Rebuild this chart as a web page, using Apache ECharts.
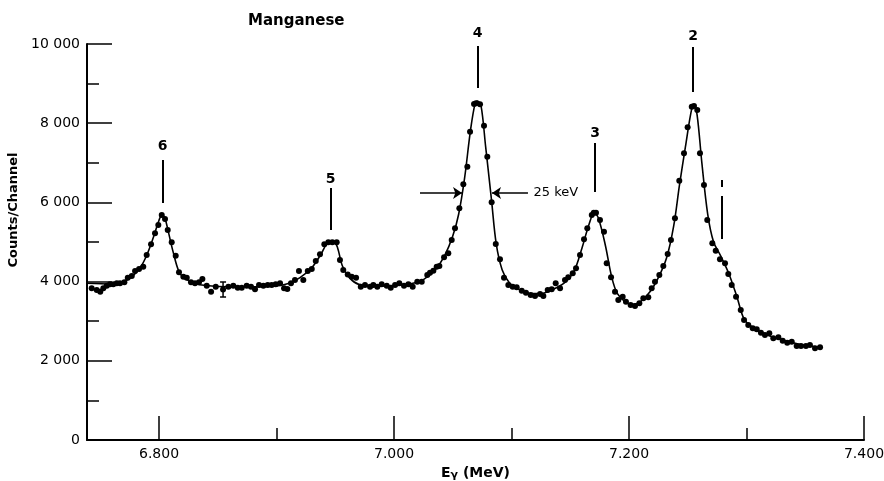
<!DOCTYPE html>
<html>
<head>
<meta charset="utf-8">
<script src="https://cdn.jsdelivr.net/npm/echarts@6/dist/echarts.min.js"></script>
<style>
  html, body { margin: 0; padding: 0; background: #fff; }
  #main { width: 884px; height: 481px; }
</style>
</head>
<body>
<div id="main"></div>
<script>
// measured spectrum points (MeV, counts per channel)
const energy = [
  6.7427, 6.7470, 6.7500, 6.7526, 6.7555, 6.7583, 6.7611, 6.7640, 6.7668, 6.7705,
  6.7734, 6.7768, 6.7796, 6.7830, 6.7866, 6.7895, 6.7932, 6.7966, 6.7994, 6.8023,
  6.8051, 6.8074, 6.8108, 6.8142, 6.8170, 6.8207, 6.8236, 6.8272, 6.8306, 6.8340,
  6.8369, 6.8406, 6.8443, 6.8483, 6.8545, 6.8590, 6.8632, 6.8670, 6.8704, 6.8746,
  6.8783, 6.8817, 6.8851, 6.8888, 6.8925, 6.8959, 6.8993, 6.9030, 6.9064, 6.9092,
  6.9123, 6.9157, 6.9191, 6.9228, 6.9266, 6.9300, 6.9334, 6.9370, 6.9407, 6.9441,
  6.9475, 6.9512, 6.9540, 6.9568, 6.9606, 6.9640, 6.9677, 6.9717, 6.9753, 6.9796,
  6.9824, 6.9858, 6.9895, 6.9938, 6.9972, 7.0009, 7.0045, 7.0085, 7.0122, 7.0159,
  7.0198, 7.0236, 7.0283, 7.0306, 7.0335, 7.0363, 7.0386, 7.0426, 7.0462, 7.0491,
  7.0519, 7.0556, 7.0590, 7.0624, 7.0647, 7.0681, 7.0698, 7.0732, 7.0766, 7.0794,
  7.0831, 7.0866, 7.0902, 7.0936, 7.0973, 7.1010, 7.1044, 7.1087, 7.1123, 7.1163,
  7.1200, 7.1243, 7.1271, 7.1308, 7.1342, 7.1376, 7.1413, 7.1455, 7.1483, 7.1521,
  7.1549, 7.1583, 7.1617, 7.1645, 7.1683, 7.1700, 7.1719, 7.1753, 7.1787, 7.1810,
  7.1847, 7.1881, 7.1909, 7.1946, 7.1974, 7.2014, 7.2051, 7.2088, 7.2122, 7.2164,
  7.2193, 7.2221, 7.2258, 7.2292, 7.2329, 7.2357, 7.2391, 7.2428, 7.2468, 7.2499,
  7.2534, 7.2553, 7.2581, 7.2604, 7.2638, 7.2666, 7.2709, 7.2738, 7.2774, 7.2817,
  7.2845, 7.2874, 7.2911, 7.2951, 7.2979, 7.3015, 7.3053, 7.3087, 7.3123, 7.3157,
  7.3194, 7.3228, 7.3271, 7.3308, 7.3347, 7.3385, 7.3427, 7.3464, 7.3506, 7.3540,
  7.3583, 7.3626
]
const counts = [
  3830, 3788, 3745, 3830, 3897, 3931, 3931, 3956, 3956, 3981,
  4099, 4141, 4267, 4318, 4376, 4671, 4941, 5219, 5429, 5681,
  5580, 5303, 4991, 4654, 4234, 4124, 4099, 3981, 3956, 3981,
  4065, 3897, 3745, 3871, 3800, 3871, 3897, 3846, 3846, 3897,
  3871, 3804, 3914, 3897, 3914, 3914, 3931, 3956, 3830, 3813,
  3956, 4040, 4267, 4040, 4267, 4318, 4520, 4688, 4941, 4991,
  4991, 4991, 4545, 4292, 4180, 4124, 4099, 3871, 3914, 3871,
  3914, 3871, 3931, 3897, 3846, 3914, 3956, 3897, 3931, 3871,
  3998, 3998, 4166, 4224, 4275, 4376, 4394, 4613, 4714, 5050,
  5345, 5850, 6456, 6901, 7785, 8484, 8501, 8476, 7936, 7153,
  6002, 4949, 4562, 4099, 3914, 3871, 3855, 3771, 3720, 3661,
  3636, 3687, 3636, 3788, 3804, 3956, 3830, 4040, 4107, 4208,
  4335, 4671, 5067, 5345, 5681, 5740, 5740, 5555, 5261, 4461,
  4107, 3745, 3535, 3619, 3493, 3409, 3384, 3451, 3577, 3603,
  3830, 3998, 4166, 4394, 4697, 5050, 5598, 6547, 7239, 7896,
  8416, 8434, 8333, 7239, 6439, 5555, 4966, 4780, 4562, 4461,
  4192, 3914, 3619, 3283, 3030, 2904, 2820, 2795, 2710, 2651,
  2694, 2568, 2593, 2507, 2457, 2482, 2374, 2374, 2374, 2399,
  2315, 2341
]

// fitted curve
const fitEnergy = [
  6.7387, 6.7600, 6.7700, 6.7780, 6.7850, 6.7900, 6.7950, 6.8000, 6.8025, 6.8050,
  6.8080, 6.8120, 6.8170, 6.8220, 6.8300, 6.8400, 6.8600, 6.8800, 6.9000, 6.9100,
  6.9200, 6.9300, 6.9380, 6.9430, 6.9490, 6.9520, 6.9560, 6.9620, 6.9700, 6.9850,
  7.0000, 7.0150, 7.0250, 7.0350, 7.0430, 7.0500, 7.0550, 7.0600, 7.0650, 7.0690,
  7.0710, 7.0740, 7.0780, 7.0830, 7.0870, 7.0920, 7.0980, 7.1050, 7.1150, 7.1250,
  7.1350, 7.1450, 7.1530, 7.1600, 7.1660, 7.1705, 7.1740, 7.1800, 7.1850, 7.1900,
  7.1970, 7.2030, 7.2100, 7.2180, 7.2250, 7.2320, 7.2380, 7.2430, 7.2480, 7.2535,
  7.2555, 7.2580, 7.2620, 7.2670, 7.2720, 7.2780, 7.2850, 7.2920, 7.2980, 7.3050,
  7.3150, 7.3300, 7.3450, 7.3630
]
const fitCounts = [
  3960, 3940, 4000, 4150, 4400, 4700, 5100, 5550, 5680, 5600,
  5250, 4750, 4250, 4080, 3960, 3900, 3870, 3870, 3890, 3950,
  4100, 4350, 4700, 4950, 4990, 4850, 4400, 4100, 3930, 3880,
  3900, 3950, 4050, 4300, 4650, 5150, 5700, 6600, 7800, 8500,
  8560, 8450, 7400, 6050, 4950, 4300, 3980, 3830, 3700, 3700,
  3800, 3970, 4250, 4850, 5450, 5740, 5600, 4900, 4150, 3700,
  3480, 3420, 3500, 3750, 4100, 4600, 5400, 6450, 7400, 8380,
  8430, 8200, 7000, 5700, 5000, 4650, 4200, 3600, 3050, 2850,
  2680, 2530, 2420, 2340
]

// peak markers
const peakIds = ['6', '5', '4', '3', '2']
const peakEnergy = [6.8030, 6.9461, 7.0712, 7.1711, 7.2545]
const markTop = [7070, 6363, 9949, 7499, 9923]
const markBottom = [5984, 5303, 8888, 6262, 8787]
const peakLabelAt = [7424, 6590, 10277, 7752, 10201]

// broken marker right of peak 2
const sideMarkEnergy = 7.2789
const sideMarkSegments = [[6565, 6388], [6161, 5075]]

// width arrows at half maximum of peak 4
const fwhmLevel = 6237
const leftArrow = [7.0221, 7.0579]
const rightArrow = [7.1140, 7.0834]
const fwhmText = '25 keV'
const fwhmTextAt = 7.1183

// one error bar on the baseline
const errEnergy = 6.8545
const errLow = 3611
const errHigh = 3990

const xMajor = [6.8, 7.0, 7.2, 7.4]
const xMinor = [6.9, 7.1, 7.3]

const font = 'DejaVu Sans'
const chart = echarts.init(document.getElementById('main'))

const segs = []
for (let i = 0; i < peakIds.length; i++) {
  segs.push({ coords: [[peakEnergy[i], markTop[i]], [peakEnergy[i], markBottom[i]]] })
}
sideMarkSegments.forEach(function (s) {
  segs.push({ coords: [[sideMarkEnergy, s[0]], [sideMarkEnergy, s[1]]] })
})

const labels = peakIds.map(function (id, i) {
  return { value: [peakEnergy[i], peakLabelAt[i]], name: id }
})

const option = {
  animation: false,
  backgroundColor: '#fff',
  title: {
    text: 'Manganese',
    left: 243,
    top: 9,
    textStyle: { fontFamily: font, fontSize: 15, fontWeight: 'bold', color: '#000' }
  },
  grid: { left: 87, right: 20, top: 44, bottom: 41, outerBoundsMode: 'none' },
  xAxis: [
    {
      type: 'value',
      min: 6.7387,
      max: 7.4,
      name: 'E{g|γ} (MeV)',
      nameLocation: 'middle',
      nameGap: 24,
      nameTextStyle: {
        fontFamily: font, fontSize: 14, fontWeight: 'bold', color: '#000',
        rich: { g: { fontFamily: font, fontSize: 11, fontWeight: 'bold', color: '#000', padding: [5, 0, 0, 0] } }
      },
      axisLine: { show: true, onZero: false, lineStyle: { color: '#000', width: 2 } },
      axisTick: { show: true, inside: true, length: 24, customValues: xMajor, lineStyle: { color: '#000', width: 1.5 } },
      axisLabel: {
        customValues: xMajor,
        margin: 7,
        fontFamily: font, fontSize: 14, color: '#000',
        formatter: function (v) { return v.toFixed(3) }
      },
      splitLine: { show: false }
    },
    {
      type: 'value',
      min: 6.7387,
      max: 7.4,
      position: 'bottom',
      axisLine: { show: false },
      axisTick: { show: true, inside: true, length: 12, customValues: xMinor, lineStyle: { color: '#000', width: 1.5 } },
      axisLabel: { show: false },
      splitLine: { show: false }
    }
  ],
  yAxis: {
    type: 'value',
    min: 0,
    max: 10000,
    interval: 2000,
    name: 'Counts/Channel',
    nameLocation: 'middle',
    nameGap: 62,
    nameTextStyle: { fontFamily: font, fontSize: 13, fontWeight: 'bold', color: '#000', padding: [0, 0, 0, 64] },
    axisLine: { show: true, lineStyle: { color: '#000', width: 2 } },
    axisTick: { show: true, inside: true, length: 25, lineStyle: { color: '#000', width: 1.5 } },
    minorTick: { show: true, splitNumber: 2, length: 12, lineStyle: { color: '#000', width: 1.5 } },
    axisLabel: {
      margin: 7,
      fontFamily: font, fontSize: 14, color: '#000',
      formatter: function (v) { return v === 0 ? '0' : (v / 1000) + ' 000' }
    },
    splitLine: { show: false }
  },
  series: [
    {
      type: 'line',
      data: fitEnergy.map(function (e, i) { return [e, fitCounts[i]] }),
      smooth: 0.35,
      showSymbol: false,
      lineStyle: { color: '#000', width: 1.6 },
      z: 2
    },
    {
      type: 'scatter',
      data: energy.map(function (e, i) { return [e, counts[i]] }),
      symbolSize: 6,
      itemStyle: { color: '#000', opacity: 1 },
      z: 3
    },
    {
      type: 'lines',
      coordinateSystem: 'cartesian2d',
      data: segs,
      symbol: 'none',
      lineStyle: { color: '#000', width: 2, opacity: 1 },
      z: 4
    },
    {
      type: 'lines',
      coordinateSystem: 'cartesian2d',
      data: [
        { coords: [[leftArrow[0], fwhmLevel], [leftArrow[1], fwhmLevel]] },
        { coords: [[rightArrow[0], fwhmLevel], [rightArrow[1], fwhmLevel]] }
      ],
      symbol: ['none', 'arrow'],
      symbolSize: 9,
      lineStyle: { color: '#000', width: 1.6, opacity: 1 },
      z: 4
    },
    {
      type: 'scatter',
      clip: false,
      data: labels,
      symbolSize: 1,
      itemStyle: { color: 'transparent', opacity: 1 },
      label: {
        show: true,
        position: 'inside',
        formatter: '{b}',
        fontFamily: font, fontSize: 14, fontWeight: 'bold', color: '#000', opacity: 1
      },
      z: 5
    },
    {
      type: 'scatter',
      data: [{ value: [fwhmTextAt, fwhmLevel], name: fwhmText }],
      symbolSize: 1,
      itemStyle: { color: 'transparent', opacity: 1 },
      label: {
        show: true,
        position: 'right',
        distance: 0,
        formatter: '{b}',
        fontFamily: font, fontSize: 13, color: '#000', opacity: 1
      },
      z: 5
    },
    {
      type: 'custom',
      data: [[errEnergy, errLow, errHigh]],
      renderItem: function (params, api) {
        const lo = api.coord([api.value(0), api.value(1)])
        const hi = api.coord([api.value(0), api.value(2)])
        const w = 3
        const st = { stroke: '#000', lineWidth: 1.5 }
        return {
          type: 'group',
          children: [
            { type: 'line', shape: { x1: lo[0], y1: lo[1], x2: hi[0], y2: hi[1] }, style: st },
            { type: 'line', shape: { x1: lo[0] - w, y1: lo[1], x2: lo[0] + w, y2: lo[1] }, style: st },
            { type: 'line', shape: { x1: hi[0] - w, y1: hi[1], x2: hi[0] + w, y2: hi[1] }, style: st }
          ]
        }
      },
      z: 4
    }
  ]
}
chart.setOption(option)
</script>
</body>
</html>
